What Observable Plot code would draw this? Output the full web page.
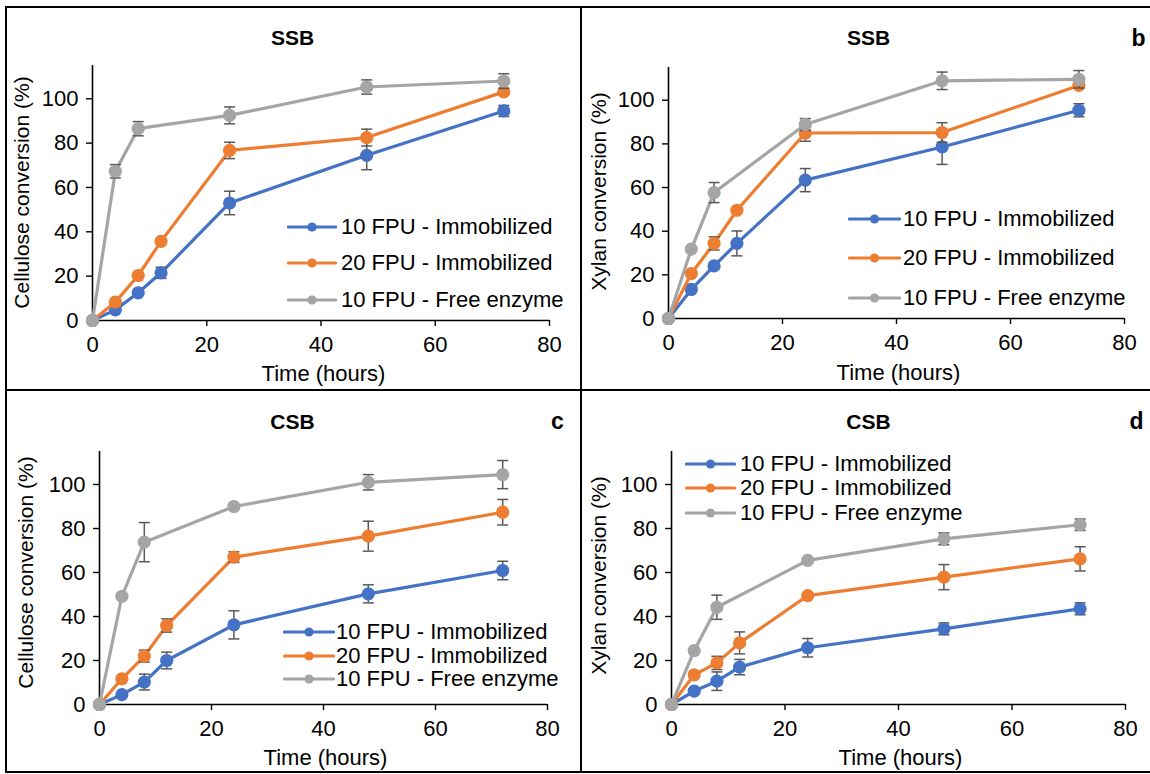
<!DOCTYPE html>
<html><head><meta charset="utf-8">
<script src="https://cdn.jsdelivr.net/npm/d3@7"></script>
<script src="https://cdn.jsdelivr.net/npm/@observablehq/plot@0.6"></script>
<style>
html,body{margin:0;padding:0;background:#fff;}
#fig{position:relative;width:1150px;height:774px;overflow:hidden;background:#fff;font-family:"Liberation Sans",Arial,sans-serif;}
.pane{position:absolute;}
.bd{position:absolute;background:#000;}
.leg{position:absolute;display:flex;align-items:center;font-size:22px;color:#000;white-space:nowrap;line-height:1;}
.leg svg{display:block;}
</style></head><body><div id="fig"></div>
<script>
// ---- data ----
const times = [0, 4, 8, 12, 24, 48, 72];
const seriesNames = ["10 FPU - Immobilized", "20 FPU - Immobilized", "10 FPU - Free enzyme"];
const seriesColors = ["#4472C4", "#ED7D31", "#A5A5A5"];
const xTicks = [0, 20, 40, 60, 80];
const yTicks = [0, 20, 40, 60, 80, 100];
const panelTitles = ["SSB", "SSB", "CSB", "CSB"];
const panelLetters = ["", "b", "c", "d"];
const yLabels = ["Cellulose conversion (%)", "Xylan conversion (%)", "Cellulose conversion (%)", "Xylan conversion (%)"];
const xLabel = "Time (hours)";

// (a) SSB cellulose
const aImm10 = [0, 4.8, 12.5, 21.5, 53, 74.5, 94.5];
const aImm10Err = [0, 0.5, 1, 2.5, 5.3, 6.5, 2.5];
const aImm20 = [0, 8.3, 20.3, 35.7, 76.7, 82.5, 103.1];
const aImm20Err = [0, 0.8, 1, 1, 3.7, 3.8, 1];
const aFree10 = [0, 67.3, 86.5, null, 92.5, 105.3, 108];
const aFree10Err = [0, 3, 3.2, null, 3.8, 3.2, 3.3];
// (b) SSB xylan
const bImm10 = [0, 13.3, 24.1, 34.4, 63.4, 78.6, 95.4];
const bImm10Err = [0, 1, 1, 5.7, 5.3, 8, 3];
const bImm20 = [0, 20.6, 34.4, 49.6, 85, 85.2, 106.8];
const bImm20Err = [0, 1, 3, 1, 3.8, 4.5, 1];
const bFree10 = [0, 31.8, 57.7, null, 88.9, 108.9, 109.6];
const bFree10Err = [0, 0.5, 4.6, null, 2.7, 4, 4];
// (c) CSB cellulose
const cImm10 = [0, 4.5, 10.2, 20, 36.2, 50.3, 60.9];
const cImm10Err = [0, 0.8, 3.6, 3.8, 6.4, 4.1, 4.2];
const cImm20 = [0, 11.7, 22, 35.9, 67, 76.5, 87.4];
const cImm20Err = [0, 0.8, 2.7, 3, 2.4, 6.8, 5.8];
const cFree10 = [0, 49.2, 73.8, null, 90, 101, 104.5];
const cFree10Err = [0, 0.5, 8.9, null, 1, 3.5, 6.4];
// (d) CSB xylan
const dImm10 = [0, 6.1, 10.6, 17, 25.8, 34.4, 43.5];
const dImm10Err = [0, 0.8, 4.2, 3.5, 4.2, 2.7, 2.7];
const dImm20 = [0, 13.5, 18.9, 28, 49.5, 57.9, 66.2];
const dImm20Err = [0, 1, 3, 5, 1, 5.7, 5.5];
const dFree10 = [0, 24.5, 44.2, null, 65.5, 75.3, 81.7];
const dFree10Err = [0, 0.5, 5.5, null, 1, 2.7, 2.6];

const panelSeries = [
  [[aImm10, aImm10Err], [aImm20, aImm20Err], [aFree10, aFree10Err]],
  [[bImm10, bImm10Err], [bImm20, bImm20Err], [bFree10, bFree10Err]],
  [[cImm10, cImm10Err], [cImm20, cImm20Err], [cFree10, cFree10Err]],
  [[dImm10, dImm10Err], [dImm20, dImm20Err], [dFree10, dFree10Err]]
];

// ---- layout (page pixels) ----
const layout = [
  {left:0, top:0, width:580, height:390, ml:92, mr:31, mt:65, mb:70, title:[292,38], letter:null, ylab:[22,192], xlab:[323,373], leg:{x1:287,x2:337,tx:341,rows:[227,263,300]}},
  {left:580, top:0, width:570, height:390, ml:88, mr:26, mt:67, mb:72, title:[868,38], letter:[1138,38], ylab:[599,191], xlab:[898,372], leg:{x1:848,x2:901,tx:903,rows:[219,258,298]}},
  {left:0, top:390, width:580, height:384, ml:99, mr:33, mt:61, mb:70, title:[292,422], letter:[557,421], ylab:[26,572], xlab:[325,757], leg:{x1:283,x2:335,tx:336,rows:[632,656,679]}},
  {left:580, top:390, width:570, height:384, ml:91, mr:25, mt:61, mb:70, title:[868,422], letter:[1136,421], ylab:[599,575], xlab:[900,757], leg:{x1:685,x2:736,tx:740,rows:[464,488,513]}}
];

const FONT = "'Liberation Sans', Arial, sans-serif";
const ERR = "#595959";
const capSymbol = {draw(ctx, size){ const r = Math.sqrt(size/Math.PI); ctx.moveTo(-r,0); ctx.lineTo(r,0); }};

const fig = document.getElementById("fig");

layout.forEach((L, p) => {
  const marks = [];
  const at = ([px, py]) => ({frameAnchor:"top-left", dx: px - L.left - L.ml, dy: py - L.top - L.mt});
  marks.push(Plot.ruleY([0], {stroke:"#000", strokeWidth:1.6}));
  marks.push(Plot.ruleX([0], {stroke:"#000", strokeWidth:1.6}));
  marks.push(Plot.axisX({ticks:xTicks, tickSize:6, tickPadding:10, fontSize:22, strokeWidth:1.4, label:null}));
  marks.push(Plot.axisY({ticks:yTicks, tickSize:6, tickPadding:8, fontSize:22, strokeWidth:1.4, label:null}));
  panelSeries[p].forEach(([vals, errs], s) => {
    const rows = times.map((t, i) => ({t, v: vals[i], e: errs[i]})).filter(d => d.v != null);
    const er = rows.filter(d => d.e > 0);
    marks.push(Plot.line(rows, {x:"t", y:"v", stroke:seriesColors[s], strokeWidth:3.2, strokeLinejoin:"round", strokeLinecap:"round"}));
    marks.push(Plot.ruleX(er, {x:"t", y1:d => d.v - d.e, y2:d => d.v + d.e, stroke:ERR, strokeWidth:1.5}));
    marks.push(Plot.dot(er, {x:"t", y:d => d.v + d.e, symbol:capSymbol, r:5.5, stroke:ERR, strokeWidth:1.5, fill:"none"}));
    marks.push(Plot.dot(er, {x:"t", y:d => d.v - d.e, symbol:capSymbol, r:5.5, stroke:ERR, strokeWidth:1.5, fill:"none"}));
    marks.push(Plot.dot(rows, {x:"t", y:"v", r:6.6, fill:seriesColors[s], stroke:"none"}));
  });
  marks.push(Plot.text([panelTitles[p]], {text:d=>d, ...at(L.title), fontSize:21, fontWeight:"bold", textAnchor:"middle", lineAnchor:"middle", fill:"#000"}));
  if (L.letter) marks.push(Plot.text([panelLetters[p]], {text:d=>d, ...at(L.letter), fontSize:23, fontWeight:"bold", textAnchor:"middle", lineAnchor:"middle", fill:"#000"}));
  marks.push(Plot.text([yLabels[p]], {text:d=>d, ...at(L.ylab), rotate:-90, fontSize:21, textAnchor:"middle", lineAnchor:"middle", fill:"#000"}));
  marks.push(Plot.text([xLabel], {text:d=>d, ...at(L.xlab), fontSize:22, textAnchor:"middle", lineAnchor:"middle", fill:"#000"}));

  const chart = Plot.plot({
    width: L.width, height: L.height,
    marginLeft: L.ml, marginRight: L.mr, marginTop: L.mt, marginBottom: L.mb,
    x: {domain:[0,80]},
    y: {domain:[0,115]},
    style: {fontFamily: FONT, fontSize:"22px", color:"#000", background:"transparent", overflow:"visible"},
    marks
  });
  const wrap = document.createElement("div");
  wrap.className = "pane";
  wrap.style.left = L.left + "px"; wrap.style.top = L.top + "px";
  wrap.appendChild(chart);
  fig.appendChild(wrap);

  seriesNames.forEach((name, s) => {
    const y = L.leg.rows[s];
    const row = document.createElement("div");
    row.className = "leg";
    row.style.left = L.leg.x1 + "px";
    row.style.top = (y - 12) + "px";
    row.style.height = "24px";
    const w = L.leg.x2 - L.leg.x1;
    row.innerHTML = `<svg width="${w}" height="24"><line x1="1.5" y1="12" x2="${w-1.5}" y2="12" stroke="${seriesColors[s]}" stroke-width="3.2" stroke-linecap="round"/><circle cx="${w/2}" cy="12" r="4.6" fill="${seriesColors[s]}"/></svg><span style="margin-left:${L.leg.tx - L.leg.x2}px">${name}</span>`;
    fig.appendChild(row);
  });
});

const borders = [
  {l:5, t:6, w:1150, h:2},
  {l:5, t:771, w:1150, h:2},
  {l:5, t:6, w:2, h:767},
  {l:580, t:6, w:2, h:767},
  {l:5, t:389, w:1150, h:2}
];
borders.forEach(b => {
  const d = document.createElement("div");
  d.className = "bd";
  Object.assign(d.style, {left:b.l+"px", top:b.t+"px", width:b.w+"px", height:b.h+"px"});
  fig.appendChild(d);
});
</script>
</body></html>
